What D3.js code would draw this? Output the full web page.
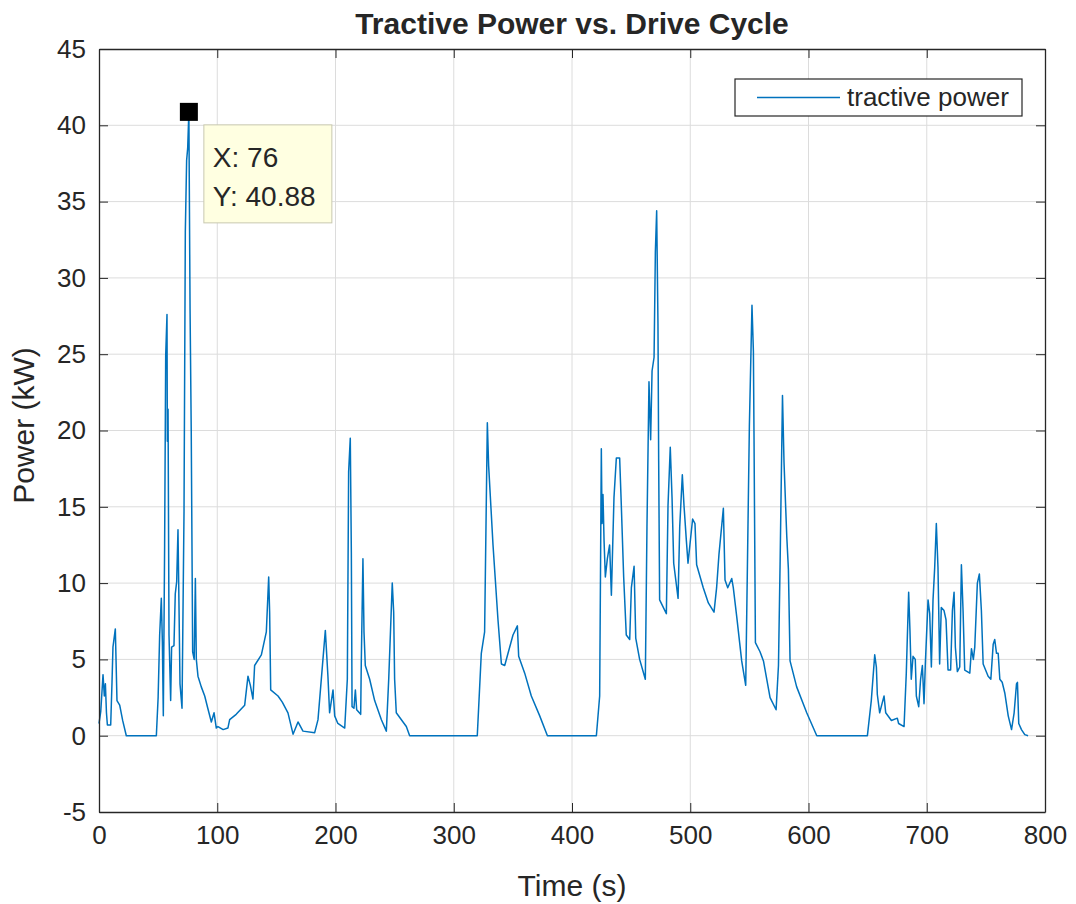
<!DOCTYPE html>
<html>
<head>
<meta charset="utf-8">
<script src="https://cdn.jsdelivr.net/npm/d3@7"></script>
<style>
  body { margin: 0; background: #fff; }
  text { font-family: "Liberation Sans", Arial, sans-serif; fill: #262626; }
</style>
</head>
<body>
<div id="chart"></div>
<script>
// time (s) and tractive power (kW)
var timeS = [0,1.5,3.4,4.5,5.4,6.3,7.1,9.9,11,11.8,13.8,15.2,17.5,20,23.1,48.5,50,51.3,52.7,53.6,54.4,55.5,56.4,57.5,57.8,58.4,59.2,60.6,61.4,63.4,64.5,65.7,66.8,67.6,68.5,70.2,71.9,73,74.1,75,76,77,78,79.2,80.5,81.5,82.3,83.7,86.5,89.4,92,95,97.3,99.2,
  100.6,105,109,110.5,116,123.2,126,128,130.2,131.6,137.3,141.5,143.5,144.3,145.2,151.4,155,159.8,164.1,168.3,172.5,182.4,185.2,191.4,193.6,195,197.9,199.3,202,207.8,
  210,211.1,212.5,213.4,214,215.6,216.8,217.9,221.3,221.8,223.2,224.1,225.2,228.9,233.1,238.8,243,245,248,249.2,250,251.4,257.1,259.9,262.7,319.9,323.3,326.1,328.4,329.5,333.2,337.4,340.3,343.1,345.9,350.1,353.8,354.9,360,365.6,372.7,379.2,420.6,
  423.4,424.8,425.4,426.2,427.1,428.2,429.9,431.8,433.3,435.5,437.5,440.3,441.7,443.7,445.9,448.8,450.2,452.5,453.9,457.2,462,463.4,465.1,466.5,467.7,469.4,470.5,471.6,472.7,473.3,474.1,479.8,481.2,483.1,484.6,486,489.7,491.1,493.3,494.7,496.7,498.1,502,504,505.4,511,515.3,520.1,522.3,524.3,528,529.4,531.7,535.1,536.4,539.3,543.5,546.9,548.3,550,552.2,553.4,553.9,555.1,559,561.9,567.5,572.6,574.6,576,578,579.3,581.6,583,584.4,590,598.5,607,
  649.8,653.1,656,657.4,658.2,660.2,662.2,663.9,665.3,670.1,675.1,676.2,680.8,682.7,684.7,685.8,686.9,688.4,690.3,691.2,693.2,694.8,696.3,697.7,698.8,701.1,702.5,703.9,705.3,706.7,708.1,709.5,710.9,712.3,714.6,716.3,718,720.2,721.7,723.1,724.2,725.9,727.9,729.3,730.7,732.1,736.4,737.8,739.4,740.6,742.8,744.5,746.2,747.7,751.9,754.2,756.2,757.5,759,760.4,761.8,763.8,766,768.9,771.7,773.9,775.9,776.7,777.8,780.1,782.9,785.7];
var powerKW = [0.8,1.6,4.0,2.6,3.4,1.5,0.7,0.7,3.5,5.8,7.0,2.3,2.0,1.0,0,0,2.5,6.6,9.0,6.1,1.3,12.5,24.9,27.6,19.3,21.4,6.6,2.3,5.8,5.9,9.3,10.1,13.5,8.8,3.4,1.8,14.7,33,37.7,38.5,40.88,28,20,5.5,5.0,10.3,5.0,3.9,3.2,2.6,1.8,0.9,1.5,0.5,
  0.6,0.4,0.5,1.05,1.4,2.0,3.9,3.3,2.4,4.6,5.3,6.8,10.4,8.1,3.0,2.6,2.2,1.5,0.1,0.9,0.3,0.2,1.05,6.9,3.9,1.5,3.0,1.3,0.8,0.5,
  3.7,17.3,19.5,12.0,1.9,1.8,3.0,1.7,1.4,4.8,11.6,6.8,4.6,3.7,2.3,1.05,0.3,3.7,10.0,8.1,3.7,1.5,0.9,0.6,0,0,5.4,6.8,20.5,17.7,12.5,7.6,4.7,4.6,5.4,6.6,7.2,5.2,4.1,2.6,1.3,0,0,
  2.6,18.8,13.9,15.8,12.8,10.4,11.6,12.5,9.2,15.6,18.2,18.2,15.1,10.4,6.6,6.3,9.7,11.1,6.4,5.0,3.7,13.7,23.2,19.4,23.9,24.8,31.7,34.4,27,18,8.9,8.0,15.1,18.9,15.6,11.3,9.0,13.7,17.1,15.1,12.8,11.3,14.2,13.9,11.2,9.7,8.7,8.1,9.7,11.9,14.9,10.2,9.7,10.3,9.7,7.8,4.9,3.3,10.9,20.3,28.2,25.2,19.9,6.1,5.5,4.9,2.5,1.7,4.6,11.4,22.3,17.9,13.1,10.9,4.9,3.2,1.5,0,
  0,2.3,5.3,4.5,2.7,1.5,2.1,2.6,1.5,1.0,1.15,0.8,0.6,4.1,9.4,6.9,3.7,5.2,5.0,2.6,1.9,3.7,4.6,2.1,4.7,8.9,8.0,4.5,8.9,11.0,13.9,11.0,4.7,8.4,8.2,7.6,4.3,4.3,8.2,9.4,5.8,4.2,4.5,11.2,8.2,4.3,4.1,5.7,5.0,5.8,10.0,10.6,8.2,4.7,3.9,3.7,6.0,6.3,5.4,5.4,3.7,3.5,2.8,1.3,0.4,1.5,3.4,3.5,0.8,0.4,0.07,0];

var xTicks = [0,100,200,300,400,500,600,700,800];
var yTicks = [-5,0,5,10,15,20,25,30,35,40,45];
var tipX = 76, tipY = 40.88;

var W = 1076, H = 904;
var margin = {top: 49, right: 31, bottom: 92, left: 99};
var iw = W - margin.left - margin.right,
    ih = H - margin.top - margin.bottom;

var svg = d3.select("#chart").append("svg")
    .attr("width", W).attr("height", H);
svg.append("rect").attr("width", W).attr("height", H).attr("fill", "#fff");

var g = svg.append("g").attr("transform", "translate(" + margin.left + "," + margin.top + ")");

var x = d3.scaleLinear().domain([0, 800]).range([0, iw]);
var y = d3.scaleLinear().domain([-5, 45]).range([ih, 0]);

// grid
g.append("g").selectAll("line").data(xTicks.slice(1, -1)).enter().append("line")
    .attr("x1", function (d) { return x(d); }).attr("x2", function (d) { return x(d); })
    .attr("y1", 0).attr("y2", ih)
    .attr("stroke", "#dcdcdc").attr("stroke-width", 1);
g.append("g").selectAll("line").data(yTicks.slice(1, -1)).enter().append("line")
    .attr("y1", function (d) { return y(d); }).attr("y2", function (d) { return y(d); })
    .attr("x1", 0).attr("x2", iw)
    .attr("stroke", "#dcdcdc").attr("stroke-width", 1);

// data line
var pts = timeS.map(function (t, i) { return {t: t, p: powerKW[i]}; });
g.append("path").datum(pts)
    .attr("fill", "none")
    .attr("stroke", "#0072BD")
    .attr("stroke-width", 1.5)
    .attr("stroke-linejoin", "round")
    .attr("d", d3.line().x(function (d) { return x(d.t); }).y(function (d) { return y(d.p); }));

// axes (ticks inward, box on)
var tl = 9;
var fmt = function (d) { return String(d); };
var ax = g.append("g").attr("transform", "translate(0," + ih + ")")
    .call(d3.axisBottom(x).tickValues(xTicks).tickFormat(fmt).tickSizeInner(-tl).tickSizeOuter(0).tickPadding(14));
var axTop = g.append("g")
    .call(d3.axisTop(x).tickValues(xTicks).tickSizeInner(-tl).tickSizeOuter(0).tickFormat(""));
var ay = g.append("g")
    .call(d3.axisLeft(y).tickValues(yTicks).tickFormat(fmt).tickSizeInner(-tl).tickSizeOuter(0).tickPadding(13));
var ayR = g.append("g").attr("transform", "translate(" + iw + ",0)")
    .call(d3.axisRight(y).tickValues(yTicks).tickSizeInner(-tl).tickSizeOuter(0).tickFormat(""));
[ax, axTop, ay, ayR].forEach(function (a) {
    a.selectAll("path").attr("stroke", "#262626").attr("stroke-width", 1.3);
    a.selectAll("line").attr("stroke", "#262626");
    a.selectAll("text").attr("font-size", "26px").attr("fill", "#262626")
        .attr("font-family", "Liberation Sans, Arial, sans-serif");
});

// titles
svg.append("text").attr("x", margin.left + iw / 2).attr("y", 34)
    .attr("text-anchor", "middle").attr("font-size", "30px").attr("font-weight", "bold")
    .attr("fill", "#000")
    .text("Tractive Power vs. Drive Cycle");
svg.append("text").attr("x", margin.left + iw / 2).attr("y", 896)
    .attr("text-anchor", "middle").attr("font-size", "30px")
    .text("Time (s)");
svg.append("text").attr("transform", "translate(34," + (margin.top + ih / 2 - 5) + ") rotate(-90)")
    .attr("text-anchor", "middle").attr("font-size", "30px")
    .text("Power (kW)");

// legend
var leg = g.append("g").attr("transform", "translate(" + (iw - 310) + ",30)");
leg.append("rect").attr("width", 287).attr("height", 37)
    .attr("fill", "#fff").attr("stroke", "#262626").attr("stroke-width", 1.2);
leg.append("line").attr("x1", 22).attr("x2", 105).attr("y1", 18.5).attr("y2", 18.5)
    .attr("stroke", "#0072BD").attr("stroke-width", 1.5);
leg.append("text").attr("x", 112).attr("y", 27).attr("font-size", "26px")
    .text("tractive power");

// data tip
var tip = g.append("g");
tip.append("rect").attr("x", x(tipX) + 15).attr("y", y(tipY) + 13)
    .attr("width", 128).attr("height", 98)
    .attr("fill", "#ffffe1").attr("stroke", "#c8c8b0").attr("stroke-width", 1);
tip.append("text").attr("x", x(tipX) + 24).attr("y", y(tipY) + 55)
    .attr("font-size", "28px").attr("fill", "#1a1a1a").text("X: " + tipX);
tip.append("text").attr("x", x(tipX) + 24).attr("y", y(tipY) + 94)
    .attr("font-size", "28px").attr("fill", "#1a1a1a").text("Y: " + tipY.toFixed(2));
tip.append("rect").attr("x", x(tipX) - 9).attr("y", y(tipY) - 9)
    .attr("width", 18).attr("height", 18).attr("fill", "#000");
</script>
</body>
</html>
